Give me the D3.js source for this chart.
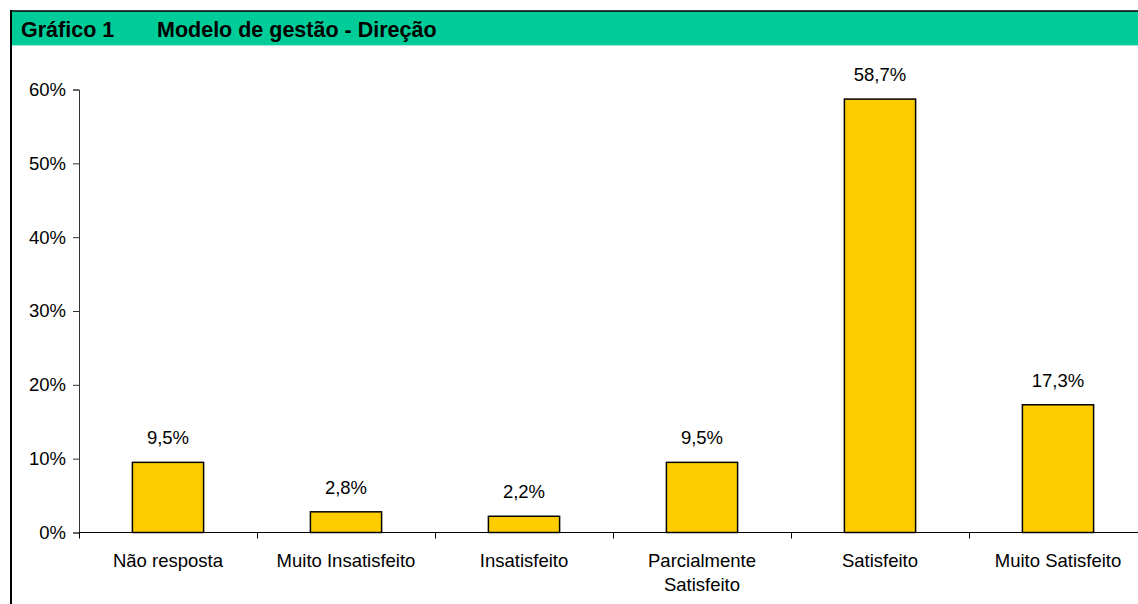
<!DOCTYPE html>
<html><head><meta charset="utf-8">
<script src="https://cdn.jsdelivr.net/npm/d3@7"></script>
<style>
html,body{margin:0;padding:0;background:#fff;}
text{font-family:"Liberation Sans",Arial,sans-serif;fill:#000;}
</style></head>
<body>
<svg id="chart" width="1138" height="604"></svg>
<script>
const titleNumber = "Gráfico 1";
const titleText = "Modelo de gestão - Direção";
const categories = ["Não resposta","Muito Insatisfeito","Insatisfeito","Parcialmente Satisfeito","Satisfeito","Muito Satisfeito"];
const values = [0.095, 0.028, 0.022, 0.095, 0.587, 0.173];
const valueLabels = ["9,5%","2,8%","2,2%","9,5%","58,7%","17,3%"];
const yTicks = [0, 0.1, 0.2, 0.3, 0.4, 0.5, 0.6];

const svg = d3.select("#chart");
const W = 1138, H = 604;

// frame + title bar
svg.append("rect").attr("x",11).attr("y",11).attr("width",W-11).attr("height",34).attr("fill","#00CC99");
svg.append("line").attr("x1",11).attr("x2",W).attr("y1",45.5).attr("y2",45.5).attr("stroke","#9fe8d2").attr("stroke-width",1);
svg.append("line").attr("x1",10).attr("x2",W).attr("y1",11).attr("y2",11).attr("stroke","#000").attr("stroke-width",1.5);
svg.append("line").attr("x1",11).attr("x2",11).attr("y1",10).attr("y2",H).attr("stroke","#000").attr("stroke-width",2);
svg.append("text").attr("x",21).attr("y",37).attr("font-size","21.5px").attr("font-weight","bold").text(titleNumber);
svg.append("text").attr("x",157).attr("y",37).attr("font-size","21.5px").attr("font-weight","bold").text(titleText);

const x0 = 79, stepW = 178;
const x = d3.scaleBand().domain(categories).range([x0, x0 + stepW*categories.length]).paddingInner(0.6).paddingOuter(0.3);
const y = d3.scaleLinear().domain([0, 0.6]).range([532.5, 89.5]);

// y axis
const yAxis = svg.append("g").attr("transform",`translate(${x0},0)`)
  .call(d3.axisLeft(y).tickValues(yTicks).tickFormat(d3.format(".0%")).tickSize(6).tickPadding(7));
yAxis.select(".domain").attr("stroke","#333");
yAxis.selectAll(".tick line").attr("stroke","#333");
yAxis.selectAll("text").attr("font-size","18.5px").attr("font-family","Liberation Sans, Arial, sans-serif").attr("fill","#000");

// bars
svg.append("g").selectAll("rect").data(values).join("rect")
  .attr("x",(d,i)=>x(categories[i]))
  .attr("y",d=>y(d))
  .attr("width",x.bandwidth())
  .attr("height",d=>y(0)-y(d))
  .attr("fill","#FFCC00").attr("stroke","#000").attr("stroke-width",1.5);

// x axis line and boundary ticks
const step = x.step();
const bounds = categories.map(c => x(c) - x.paddingInner()*step/2 - (c===categories[0] ? (x.paddingOuter()-x.paddingInner()/2)*step : 0));
svg.append("line").attr("x1",x0).attr("x2",W).attr("y1",y(0)).attr("y2",y(0)).attr("stroke","#000").attr("stroke-width",1.2);
const tickXs = categories.map((c,i)=> x0 + i*step);
svg.append("g").selectAll("line").data(tickXs).join("line")
  .attr("x1",d=>d+0.5).attr("x2",d=>d+0.5).attr("y1",y(0)).attr("y2",y(0)+6)
  .attr("stroke","#000").attr("stroke-width",1);

// value labels
svg.append("g").selectAll("text").data(values).join("text")
  .attr("x",(d,i)=>x(categories[i])+x.bandwidth()/2)
  .attr("y",d=>y(d)-18)
  .attr("text-anchor","middle").attr("font-size","18.5px")
  .text((d,i)=>valueLabels[i]);

// category labels with wrapping
const labG = svg.append("g");
categories.forEach((c)=>{
  const t = labG.append("text").attr("x",x(c)+x.bandwidth()/2).attr("y",567)
    .attr("text-anchor","middle").attr("font-size","18.5px");
  const words = c.split(" ");
  let line = [], lineNo = 0;
  let ts = t.append("tspan").attr("x",x(c)+x.bandwidth()/2).attr("dy",0);
  words.forEach(w=>{
    line.push(w);
    ts.text(line.join(" "));
    if (ts.node().getComputedTextLength() > step - 12 && line.length > 1) {
      line.pop(); ts.text(line.join(" "));
      line = [w]; lineNo++;
      ts = t.append("tspan").attr("x",x(c)+x.bandwidth()/2).attr("dy",24).text(w);
    }
  });
});
</script>
</body></html>
